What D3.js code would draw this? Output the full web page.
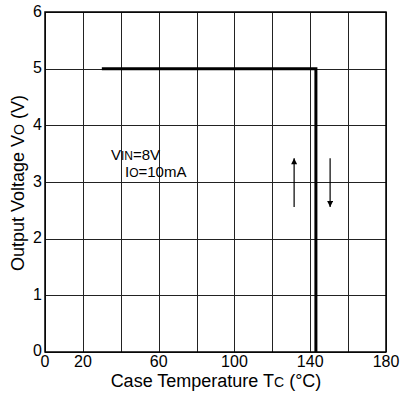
<!DOCTYPE html>
<html>
<head>
<meta charset="utf-8">
<script src="https://cdn.jsdelivr.net/npm/d3@7"></script>
<style>
body { margin: 0; background: #fff; }
text { font-family: "Liberation Sans", Arial, sans-serif; fill: #000; }
</style>
</head>
<body>
<div id="chart"></div>
<script>
// curve data (case temperature vs output voltage)
var temps = [30, 143, 143];
var volts = [5, 5, 0];

var xTicks = [0, 20, 40, 60, 80, 100, 120, 140, 160, 180];
var xLabels = ["0", "20", "", "60", "", "100", "", "140", "", "180"];
var yTicks = [0, 1, 2, 3, 4, 5, 6];

// hysteresis arrows [temp, from V, to V]
var arrows = [[131.5, 2.56, 3.42], [150.5, 3.42, 2.56]];

var width = 400, height = 394;
var pLeft = 45, pRight = 386, pTop = 12, pBottom = 352;

var svg = d3.select("#chart").append("svg")
    .attr("width", width)
    .attr("height", height);

var x = d3.scaleLinear().domain([0, 180]).range([pLeft, pRight]);
var y = d3.scaleLinear().domain([0, 6]).range([pBottom, pTop]);

var defs = svg.append("defs");
defs.append("marker")
    .attr("id", "arr")
    .attr("viewBox", "0 0 10 10")
    .attr("refX", 10).attr("refY", 5)
    .attr("markerWidth", 11).attr("markerHeight", 6)
    .attr("markerUnits", "userSpaceOnUse")
    .attr("orient", "auto")
    .append("path").attr("d", "M0,0 L10,5 L0,10 z").attr("fill", "#000");

// grid
svg.append("g").selectAll("line")
    .data(xTicks).enter().append("line")
    .attr("x1", function(d){ return Math.round(x(d)) + 0.5; })
    .attr("x2", function(d){ return Math.round(x(d)) + 0.5; })
    .attr("y1", pTop).attr("y2", pBottom)
    .attr("stroke", "#222").attr("stroke-width", 1);

svg.append("g").selectAll("line")
    .data(yTicks).enter().append("line")
    .attr("y1", function(d){ return Math.round(y(d)) + 0.5; })
    .attr("y2", function(d){ return Math.round(y(d)) + 0.5; })
    .attr("x1", pLeft).attr("x2", pRight)
    .attr("stroke", "#222").attr("stroke-width", 1);

// frame
svg.append("rect")
    .attr("x", pLeft).attr("y", pTop)
    .attr("width", pRight - pLeft).attr("height", pBottom - pTop)
    .attr("fill", "none").attr("stroke", "#000").attr("stroke-width", 1.5);

// curve
var pts = temps.map(function(t, i){ return [t, volts[i]]; });
var line = d3.line().x(function(d){ return x(d[0]); }).y(function(d){ return y(d[1]); });
svg.append("path")
    .datum(pts)
    .attr("d", line)
    .attr("fill", "none")
    .attr("stroke", "#000")
    .attr("stroke-width", 3);

// arrows
svg.append("g").selectAll("line")
    .data(arrows).enter().append("line")
    .attr("x1", function(d){ return x(d[0]); })
    .attr("x2", function(d){ return x(d[0]); })
    .attr("y1", function(d){ return y(d[1]); })
    .attr("y2", function(d){ return y(d[2]); })
    .attr("stroke", "#000").attr("stroke-width", 1.2)
    .attr("marker-end", "url(#arr)");

// tick labels
svg.append("g").selectAll("text")
    .data(xTicks).enter().append("text")
    .attr("x", function(d){ return x(d); })
    .attr("y", 367)
    .attr("text-anchor", "middle")
    .attr("font-size", 16)
    .text(function(d, i){ return xLabels[i]; });

svg.append("g").selectAll("text")
    .data(yTicks).enter().append("text")
    .attr("x", 42)
    .attr("y", function(d){ return y(d) - (d == 0 ? 2 : 1); })
    .attr("dy", "0.35em")
    .attr("text-anchor", "end")
    .attr("font-size", 16)
    .text(function(d){ return d; });

// axis titles
var xt = svg.append("text")
    .attr("x", 216)
    .attr("y", 387)
    .attr("text-anchor", "middle")
    .attr("font-size", 18);
xt.append("tspan").text("Case Temperature T");
xt.append("tspan").attr("font-size", 14).text("C");
xt.append("tspan").text(" (°C)");

var yt = svg.append("text")
    .attr("transform", "translate(24,183) rotate(-90)")
    .attr("text-anchor", "middle")
    .attr("font-size", 18);
yt.append("tspan").text("Output Voltage V");
yt.append("tspan").attr("font-size", 14).text("O");
yt.append("tspan").text(" (V)");

// conditions
var t1 = svg.append("text").attr("x", 111).attr("y", 160).attr("font-size", 15);
t1.append("tspan").text("V");
t1.append("tspan").attr("font-size", 12).text("IN");
t1.append("tspan").text("=8V");
var t2 = svg.append("text").attr("x", 125).attr("y", 177).attr("font-size", 15);
t2.append("tspan").text("I");
t2.append("tspan").attr("font-size", 12).text("O");
t2.append("tspan").text("=10mA");
</script>
</body>
</html>
